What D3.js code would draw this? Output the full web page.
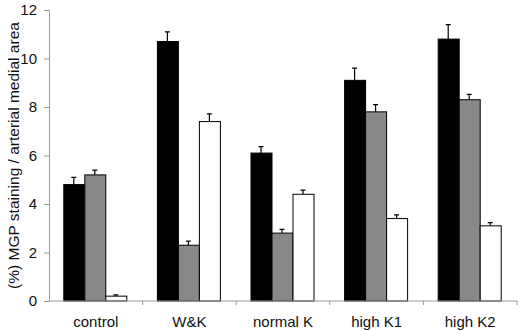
<!DOCTYPE html>
<html>
<head>
<meta charset="utf-8">
<script src="https://cdn.jsdelivr.net/npm/d3@7/dist/d3.min.js"></script>
<style>
  body { margin: 0; background: #fff; }
  text { font-family: "Liberation Sans", Arial, sans-serif; fill: #111; }
</style>
</head>
<body>
<script>
// data
var categories = ['control', 'W&K', 'normal K', 'high K1', 'high K2'];
var seriesNames = ['s1', 's2', 's3'];
var means1 = [4.8, 10.7, 6.1, 9.1, 10.8];
var means2 = [5.2, 2.3, 2.8, 7.8, 8.3];
var means3 = [0.2, 7.4, 4.4, 3.4, 3.1];
var err1 = [0.3, 0.4, 0.27, 0.5, 0.6];
var err2 = [0.2, 0.17, 0.15, 0.3, 0.22];
var err3 = [0.05, 0.32, 0.17, 0.15, 0.13];
var yTicks = [0, 2, 4, 6, 8, 10, 12];

var fills = ['#000000', '#888888', '#ffffff'];

var width = 520, height = 331;
var margin = { top: 10, right: 3, bottom: 30, left: 49 };
var w = width - margin.left - margin.right,
    h = height - margin.top - margin.bottom;

var svg = d3.select('body').append('svg')
    .attr('width', width)
    .attr('height', height);
var g = svg.append('g')
    .attr('transform', 'translate(' + margin.left + ',' + margin.top + ')');

var x = d3.scaleBand().domain(categories).range([0, w]).paddingInner(0).paddingOuter(0);
var x1 = d3.scaleBand().domain(seriesNames).range([0, 63]);
var y = d3.scaleLinear().domain([0, 12]).range([h, 0]);

var rows = categories.map(function(c, i) {
    return [
        { cat: c, s: 's1', v: means1[i], e: err1[i], f: fills[0] },
        { cat: c, s: 's2', v: means2[i], e: err2[i], f: fills[1] },
        { cat: c, s: 's3', v: means3[i], e: err3[i], f: fills[2] }
    ];
});
var groupOffset = (x.bandwidth() - 63) / 2 - 1;

// error bars (drawn first so the bar sits on top)
var groups = g.selectAll('.grp').data(rows).enter().append('g')
    .attr('class', 'grp')
    .attr('transform', function(d) { return 'translate(' + (x(d[0].cat) + groupOffset) + ',0)'; });

groups.selectAll('.err').data(function(d) { return d; }).enter().append('path')
    .attr('class', 'err')
    .attr('fill', 'none')
    .attr('stroke', '#000')
    .attr('stroke-width', 1.2)
    .attr('d', function(d) {
        var cx = x1(d.s) + x1.bandwidth() / 2;
        return 'M' + cx + ',' + y(d.v) + 'V' + y(d.v + d.e) + 'M' + (cx - 2.5) + ',' + y(d.v + d.e) + 'H' + (cx + 2.5);
    });

groups.selectAll('rect').data(function(d) { return d; }).enter().append('rect')
    .attr('x', function(d) { return x1(d.s) + 0.5; })
    .attr('width', x1.bandwidth())
    .attr('y', function(d) { return y(d.v); })
    .attr('height', function(d) { return h - y(d.v); })
    .attr('fill', function(d) { return d.f; })
    .attr('stroke', '#000')
    .attr('stroke-width', 1);

// y axis
var yAxis = g.append('g')
    .call(d3.axisLeft(y).tickValues(yTicks).tickSize(5).tickPadding(7));
yAxis.select('.domain').attr('stroke', '#999');
yAxis.selectAll('.tick line').attr('stroke', '#999');
yAxis.selectAll('.tick text').style('font-size', '15px');

// x axis: ticks at the category boundaries
var xAxis = g.append('g').attr('transform', 'translate(0,' + h + ')');
xAxis.append('line').attr('x1', 0).attr('x2', w).attr('stroke', '#999');
xAxis.selectAll('.bt').data(categories).enter().append('line')
    .attr('x1', function(d) { return x(d) + x.bandwidth(); })
    .attr('x2', function(d) { return x(d) + x.bandwidth(); })
    .attr('y1', 0).attr('y2', 4).attr('stroke', '#999');
xAxis.selectAll('.lbl').data(categories).enter().append('text')
    .attr('x', function(d) { return x(d) + x.bandwidth() / 2; })
    .attr('y', 26)
    .attr('text-anchor', 'middle')
    .style('font-size', '15px')
    .text(function(d) { return d; });

// y axis title
svg.append('text')
    .attr('transform', 'translate(19,' + (margin.top + h / 2) + ') rotate(-90)')
    .attr('text-anchor', 'middle')
    .style('font-size', '15.5px')
    .text('(%) MGP staining / arterial medial area');
</script>
</body>
</html>
